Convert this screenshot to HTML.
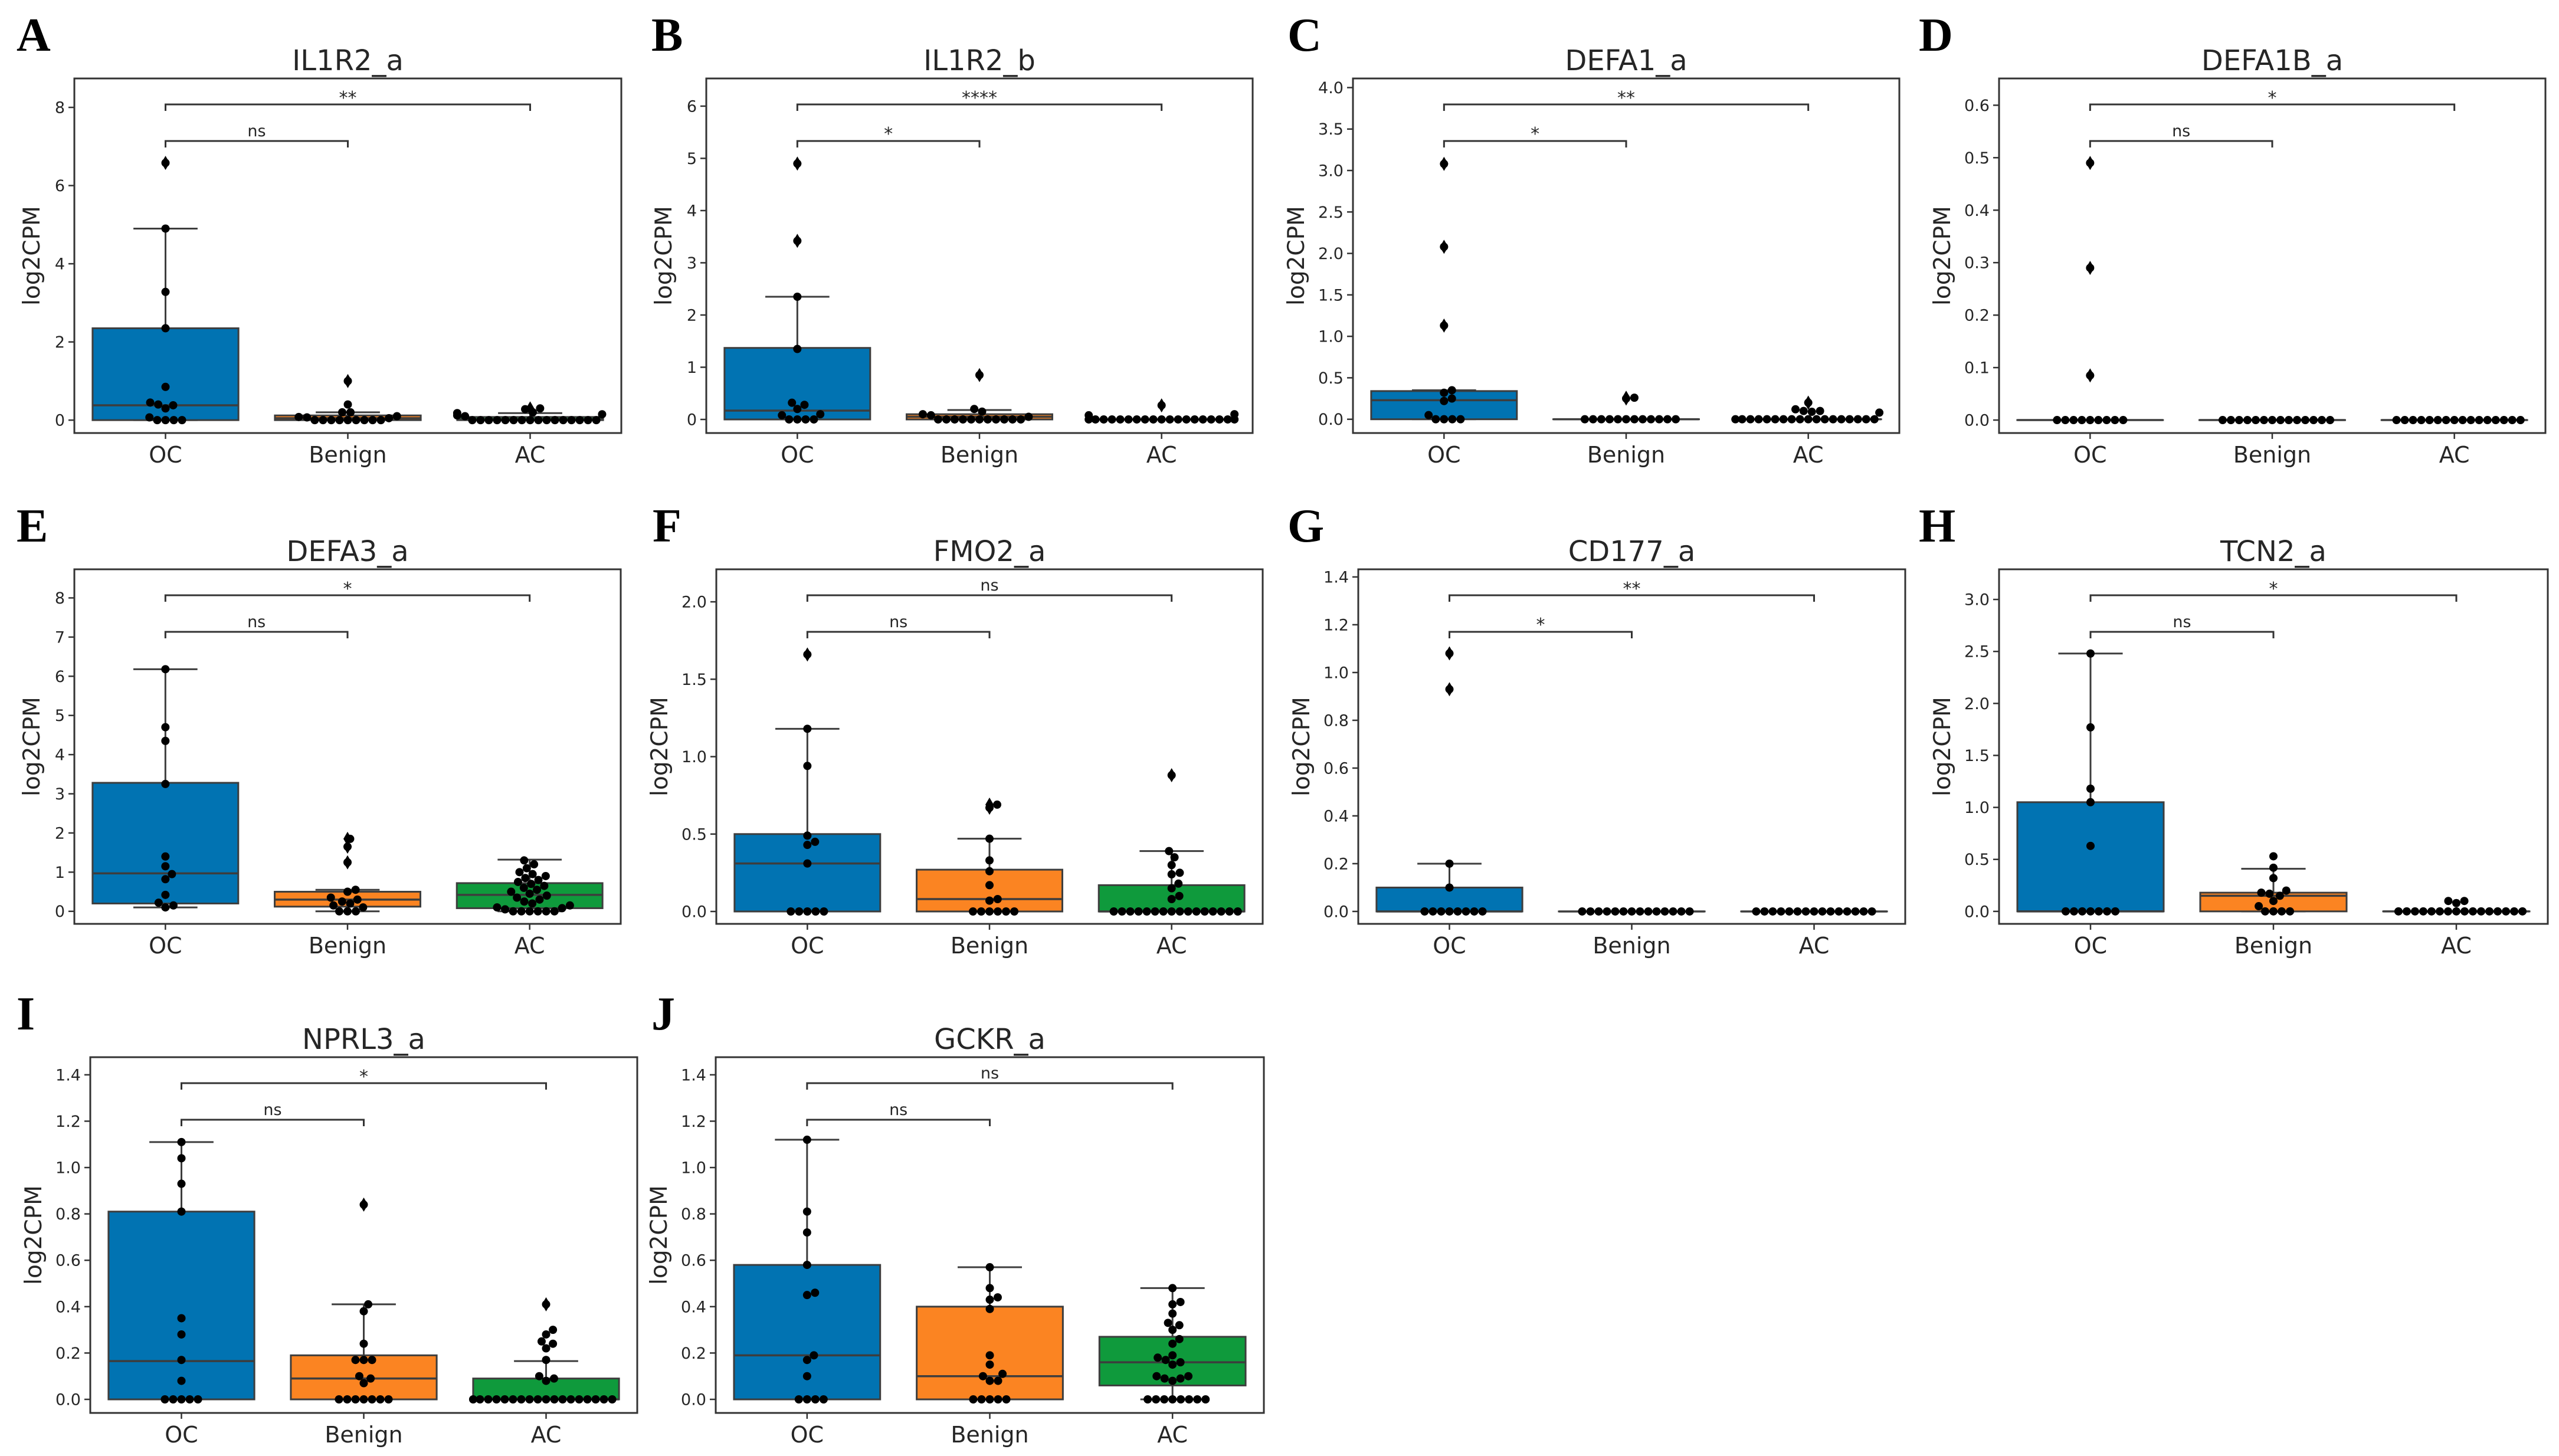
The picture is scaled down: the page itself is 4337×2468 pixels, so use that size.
<!DOCTYPE html>
<html><head><meta charset="utf-8"><title>log2CPM boxplots</title>
<style>
html,body{margin:0;padding:0;background:#fff;}
svg{display:block;}
text{font-family:"DejaVu Sans","Liberation Sans",sans-serif;fill:#262626;}
.letter{font-family:"Liberation Serif",serif;font-weight:bold;fill:#000;}
</style></head>
<body>
<svg id="fig" xmlns="http://www.w3.org/2000/svg" width="4337" height="2468" viewBox="0 0 4337 2468"></svg>
<script>
// ---- data ----
const categories = ["OC", "Benign", "AC"];
const titles = ["IL1R2_a","IL1R2_b","DEFA1_a","DEFA1B_a","DEFA3_a","FMO2_a","CD177_a","TCN2_a","NPRL3_a","GCKR_a"];
const letters = ["A","B","C","D","E","F","G","H","I","J"];
const sigLow = ["ns","*","*","ns","ns","ns","*","ns","ns","ns"];
const sigHigh = ["**","****","**","*","*","ns","**","*","*","ns"];
const tickMax = [8, 6, 4, 0.6, 8, 2, 1.4, 3, 1.4, 1.4];
const tickStep = [2, 1, 0.5, 0.1, 1, 0.5, 0.2, 0.5, 0.2, 0.2];
const yMin = [-0.33, -0.26, -0.166, -0.0247, -0.32, -0.08, -0.052, -0.12, -0.0585, -0.0585];
const yMax = [8.74, 6.53, 4.11, 0.651, 8.73, 2.21, 1.432, 3.29, 1.476, 1.476];

// box stats: [q1, median, q3, whiskerLow, whiskerHigh] for OC, Benign, AC
const statsA = [[0,0.38,2.35,0,4.9],[0,0.05,0.12,0,0.2],[0,0.02,0.08,0,0.18]];
const statsB = [[0,0.17,1.37,0,2.35],[0,0.05,0.1,0,0.18],[0,0,0,0,0]];
const statsC = [[0,0.23,0.34,0,0.35],[0,0,0,0,0],[0,0,0,0,0]];
const statsD = [[0,0,0,0,0],[0,0,0,0,0],[0,0,0,0,0]];
const statsE = [[0.2,0.97,3.28,0.1,6.18],[0.12,0.3,0.5,0,0.55],[0.08,0.42,0.72,0,1.32]];
const statsF = [[0,0.31,0.5,0,1.18],[0,0.08,0.27,0,0.47],[0,0,0.17,0,0.39]];
const statsG = [[0,0,0.1,0,0.2],[0,0,0,0,0],[0,0,0,0,0]];
const statsH = [[0,0,1.05,0,2.48],[0,0.15,0.18,0,0.41],[0,0,0,0,0]];
const statsI = [[0,0.165,0.81,0,1.11],[0,0.09,0.19,0,0.41],[0,0,0.09,0,0.165]];
const statsJ = [[0,0.19,0.58,0,1.12],[0,0.1,0.4,0,0.57],[0.06,0.16,0.27,0,0.48]];

// outliers (diamonds)
const fliersA = [[6.58],[1.0],[0.3]];
const fliersB = [[4.9,3.42],[0.85],[0.27]];
const fliersC = [[3.08,2.08,1.13],[0.25,0.26],[0.2]];
const fliersD = [[0.49,0.29,0.085],[],[]];
const fliersE = [[],[1.85,1.65,1.25],[]];
const fliersF = [[1.66],[0.69,0.67],[0.88]];
const fliersG = [[1.08,0.93],[],[]];
const fliersH = [[],[],[]];
const fliersI = [[],[0.84],[0.41]];
const fliersJ = [[],[],[]];

// swarm points
const pointsA = [[0,0,0,0,0.07,0.3,0.38,0.4,0.45,0.85,2.35,3.28,4.9,6.58],
 [0,0,0,0,0,0,0,0,0,0.05,0.07,0.08,0.1,0.2,0.2,0.4,1.0],
 [0,0,0,0,0,0,0,0,0,0,0,0,0,0,0,0,0.1,0.12,0.15,0.18,0.2,0.28,0.3]];
const pointsB = [[0,0,0,0,0.08,0.1,0.2,0.28,0.32,1.35,2.35,3.42,4.9],
 [0,0,0,0,0,0,0,0,0,0,0,0.05,0.08,0.1,0.15,0.2,0.85],
 [0,0,0,0,0,0,0,0,0,0,0,0,0,0,0,0,0,0,0,0.08,0.1,0.27]];
const pointsC = [[0,0,0,0,0.05,0.22,0.25,0.32,0.35,1.13,2.08,3.08],
 [0,0,0,0,0,0,0,0,0,0,0,0,0.25,0.26],
 [0,0,0,0,0,0,0,0,0,0,0,0,0,0,0,0,0,0,0.08,0.09,0.1,0.1,0.12,0.2]];
const pointsD = [[0,0,0,0,0,0,0,0,0,0.085,0.29,0.49],
 [0,0,0,0,0,0,0,0,0,0,0,0,0,0],
 [0,0,0,0,0,0,0,0,0,0,0,0,0,0,0,0]];
const pointsE = [[0.1,0.15,0.22,0.42,0.82,0.95,1.15,1.4,3.25,4.35,4.7,6.18],
 [0,0,0,0.1,0.15,0.2,0.25,0.3,0.35,0.5,0.55,1.25,1.65,1.85],
 [0,0,0,0,0,0,0.05,0.08,0.1,0.15,0.2,0.25,0.3,0.35,0.4,0.45,0.5,0.55,0.6,0.65,0.7,0.75,0.8,0.85,0.9,0.95,1.0,1.1,1.2,1.3]];
const pointsF = [[0,0,0,0,0,0.31,0.43,0.45,0.49,0.94,1.18,1.66],
 [0,0,0,0,0,0,0.07,0.08,0.17,0.26,0.33,0.47,0.67,0.69],
 [0,0,0,0,0,0,0,0,0,0,0,0,0,0,0,0,0.08,0.1,0.15,0.18,0.24,0.25,0.3,0.35,0.39,0.88]];
const pointsG = [[0,0,0,0,0,0,0,0,0.1,0.2,0.93,1.08],
 [0,0,0,0,0,0,0,0,0,0,0,0,0,0],
 [0,0,0,0,0,0,0,0,0,0,0,0,0,0,0]];
const pointsH = [[0,0,0,0,0,0,0,0.63,1.05,1.18,1.77,2.48],
 [0,0,0,0,0.05,0.1,0.15,0.17,0.18,0.2,0.32,0.42,0.53],
 [0,0,0,0,0,0,0,0,0,0,0,0,0,0,0,0,0.08,0.1,0.1]];
const pointsI = [[0,0,0,0,0,0.08,0.17,0.28,0.35,0.81,0.93,1.04,1.11],
 [0,0,0,0,0,0,0,0.07,0.09,0.1,0.17,0.17,0.17,0.24,0.38,0.41,0.84],
 [0,0,0,0,0,0,0,0,0,0,0,0,0,0,0,0,0,0,0.08,0.09,0.1,0.17,0.22,0.24,0.25,0.28,0.3,0.41]];
const pointsJ = [[0,0,0,0,0.1,0.17,0.19,0.45,0.46,0.58,0.72,0.81,1.12],
 [0,0,0,0,0,0.08,0.08,0.1,0.11,0.15,0.19,0.39,0.43,0.44,0.48,0.57],
 [0,0,0,0,0,0,0,0,0.08,0.09,0.09,0.1,0.1,0.15,0.16,0.17,0.18,0.19,0.24,0.26,0.3,0.32,0.33,0.37,0.41,0.42,0.48]];

const allStats = [statsA,statsB,statsC,statsD,statsE,statsF,statsG,statsH,statsI,statsJ];
const allFliers = [fliersA,fliersB,fliersC,fliersD,fliersE,fliersF,fliersG,fliersH,fliersI,fliersJ];
const allPoints = [pointsA,pointsB,pointsC,pointsD,pointsE,pointsF,pointsG,pointsH,pointsI,pointsJ];

// ---- layout (pixels) ----
const frames = [
 {L:126,R:1053,T:133,B:734,lx:28},{L:1197,R:2123,T:133,B:734,lx:1104},
 {L:2293,R:3219,T:133,B:734,lx:2182},{L:3388,R:4314,T:133,B:734,lx:3252},
 {L:126,R:1052,T:965,B:1566,lx:28},{L:1214,R:2140,T:965,B:1566,lx:1106},
 {L:2302,R:3229,T:965,B:1566,lx:2182},{L:3388,R:4318,T:965,B:1566,lx:3252},
 {L:153,R:1080,T:1792,B:2395,lx:28},{L:1213,R:2142,T:1792,B:2395,lx:1104}];
const colors = ["#0173b2","#fb8422","#0f9a3c"];
const LINE = "#3d3d3d";
const NS = "http://www.w3.org/2000/svg";
const svg = document.getElementById('fig');

function mk(tag, attrs, parent, txt){
  const e = document.createElementNS(NS, tag);
  for (const k in attrs) e.setAttribute(k, attrs[k]);
  if (txt !== undefined) e.textContent = txt;
  (parent||svg).appendChild(e);
  return e;
}

function fmt(v, step){
  return step >= 1 ? String(Math.round(v)) : v.toFixed(1);
}

for (let p = 0; p < 10; p++) {
  const f = frames[p];
  const g = mk('g', {});
  
  
  const y = v => f.B - (v - yMin[p]) / (yMax[p] - yMin[p]) * (f.B - f.T);
  const step = (f.R - f.L) / 3;
  const x = i => f.L + step * (i + 0.5);
  const boxW = step * 0.8;
  const r = 7;

  const lt = mk('text', {x:f.lx, y:f.T-47, 'font-size':80, class:'letter'}, g, letters[p]);
  
  
  const tt = mk('text', {x:(f.L+f.R)/2, y:f.T-14, 'font-size':48, 'text-anchor':'middle'}, g, titles[p]);
  
  

  let maxLen = 0;
  const nT = Math.round(tickMax[p] / tickStep[p]);
  for (let k = 0; k <= nT; k++) {
    const v = k * tickStep[p];
    const yy = y(v);
    const tk = mk('line', {x1:f.L-10, x2:f.L, y1:yy, y2:yy, stroke:'#333', 'stroke-width':2.5}, g);
    
    
    const s = fmt(v, tickStep[p]);
    maxLen = Math.max(maxLen, s.length);
    const tl = mk('text', {x:f.L-16, y:yy+9.5, 'font-size':27, 'text-anchor':'end'}, g, s);
    
    
  }
  const lblW = maxLen === 1 ? 17 : 41;
  const yc = (f.T + f.B) / 2;
  const lx = f.L - 16 - lblW - 26;
  const yl = mk('text', {x:lx, y:yc, 'font-size':39, 'text-anchor':'middle', transform:`rotate(-90 ${lx} ${yc})`}, g, 'log2CPM');
  
  

  for (let i = 0; i < 3; i++) {
    const xt = mk('line', {x1:x(i), x2:x(i), y1:f.B, y2:f.B+10, stroke:'#333', 'stroke-width':2.5}, g);
    
    
    const xl = mk('text', {x:x(i), y:f.B+50, 'font-size':38, 'text-anchor':'middle'}, g, categories[i]);
    
    
  }

  for (let i = 0; i < 3; i++) {
    const [q1, md, q3, wl, wh] = allStats[p][i];
    const cx = x(i);
    const capW = boxW * 0.44;
    const wg = mk('g', {stroke:LINE, 'stroke-width':3}, g);
    
    
    mk('line', {x1:cx, x2:cx, y1:y(q3), y2:y(wh)}, wg);
    mk('line', {x1:cx, x2:cx, y1:y(q1), y2:y(wl)}, wg);
    mk('line', {x1:cx-capW/2, x2:cx+capW/2, y1:y(wh), y2:y(wh)}, wg);
    mk('line', {x1:cx-capW/2, x2:cx+capW/2, y1:y(wl), y2:y(wl)}, wg);
    const bx = mk('rect', {x:cx-boxW/2, y:y(q3), width:boxW, height:Math.max(0.01, y(q1)-y(q3)), fill:colors[i], stroke:LINE, 'stroke-width':3}, g);
    
    
    const ml = mk('line', {x1:cx-boxW/2, x2:cx+boxW/2, y1:y(md), y2:y(md), stroke:LINE, 'stroke-width':3.5}, g);
    
    

    for (const v of allFliers[p][i]) {
      const yy = y(v);
      const d = mk('path', {d:`M${cx} ${yy-12} L${cx+7} ${yy} L${cx} ${yy+12} L${cx-7} ${yy} Z`, fill:'#000'}, g);
      
      
    }

    const vals = allPoints[p][i].slice().sort((a,b)=>a-b);
    const placed = [];
    const maxOff = boxW / 2;
    for (const v of vals) {
      const py = y(v);
      const cands = [0];
      for (const q of placed) {
        const dy = Math.abs(q.y - py);
        if (dy < 2*r) {
          const dx = Math.sqrt(4*r*r - dy*dy) + 0.01;
          cands.push(q.x + dx, q.x - dx);
        }
      }
      cands.sort((a,b)=>Math.abs(a)-Math.abs(b) || b-a);
      let best = null;
      for (const c of cands) {
        if (Math.abs(c) > maxOff) continue;
        let ok = true;
        for (const q of placed) {
          if ((q.x-c)*(q.x-c) + (q.y-py)*(q.y-py) < 4*r*r - 0.5) { ok = false; break; }
        }
        if (ok) { best = c; break; }
      }
      if (best === null) best = (placed.length % 2 ? -1 : 1) * maxOff;
      placed.push({x:best, y:py});
      const dot = mk('circle', {cx:cx+best, cy:py, r:r, fill:'#000'}, g);
      
      
    }
  }

  const bg = mk('g', {stroke:'#333', 'stroke-width':3, fill:'none'}, g);
  
  
  mk('path', {d:`M${x(0)} ${f.T+117} V${f.T+106} H${x(1)} V${f.T+117}`}, bg);
  mk('path', {d:`M${x(0)} ${f.T+55} V${f.T+44} H${x(2)} V${f.T+55}`}, bg);
  const lowAst = sigLow[p] !== 'ns';
  const highAst = sigHigh[p] !== 'ns';
  const s1 = mk('text', {x:(x(0)+x(1))/2, y:f.T+(lowAst?104:98), 'font-size':lowAst?30:27, 'text-anchor':'middle'}, g, sigLow[p]);
  
  
  const s2 = mk('text', {x:(x(0)+x(2))/2, y:f.T+(highAst?43:36), 'font-size':highAst?30:27, 'text-anchor':'middle'}, g, sigHigh[p]);
  
  

  const fr = mk('rect', {x:f.L, y:f.T, width:f.R-f.L, height:f.B-f.T, fill:'none', stroke:'#333', 'stroke-width':3}, g);
  
  
}
</script>
</body></html>
